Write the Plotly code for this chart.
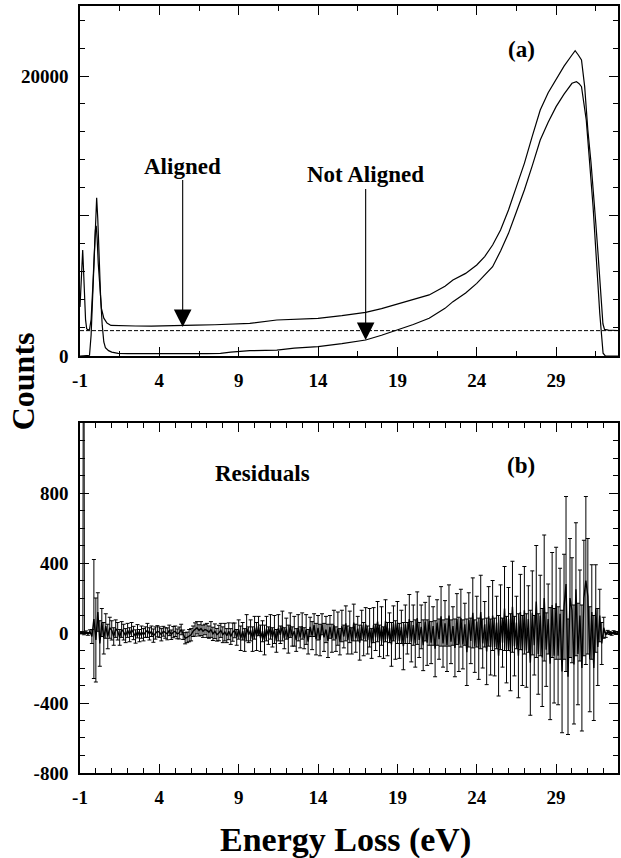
import numpy as np
import plotly.graph_objects as go

# ---------------- data ----------------
aligned_e = [-1.00, -0.93, -0.86, -0.83, -0.79, -0.72, -0.65, -0.58, -0.50, -0.40,
             -0.30, -0.20, -0.10, -0.03, 0.02, 0.08, 0.15, 0.25, 0.35, 0.50,
             0.70, 0.95, 1.5, 2.5, 3.5, 4.5, 5.5, 6.2, 6.3, 7.5,
             8.7, 9.7, 11.4, 12.5, 14.0, 15.5, 17.0, 18.0, 19.0, 20.0,
             21.0, 22.0, 22.5, 23.3, 24.0, 24.5, 25.0, 25.5, 26.0, 26.5,
             27.0, 27.5, 28.0, 28.5, 29.0, 29.5, 30.0, 30.2, 30.4, 30.6,
             30.8, 31.0, 31.2, 31.33, 31.5, 31.64, 31.75, 31.85, 31.95, 32.05,
             32.3, 32.9]
aligned_counts = [3500, 5500, 7300, 7570, 6500, 4200, 2600, 1950, 1850, 1900,
                  2600, 4800, 7500, 9000, 9300, 8400, 6600, 4600, 3400, 2700,
                  2350, 2180, 2150, 2140, 2130, 2140, 2150, 2160, 2200, 2230,
                  2290, 2330, 2570, 2620, 2690, 2880, 3120, 3380, 3710, 4000,
                  4360, 4980, 5430, 5900, 6500, 7100, 7930, 9000, 10430, 12100,
                  13760, 15700, 17570, 18800, 19710, 20700, 21500, 21810, 21500, 21140,
                  19240, 16140, 13800, 12100, 9500, 7350, 5400, 3760, 2300, 1900,
                  1850, 1820]

notaligned_e = [-1.00, -0.50, -0.40, -0.30, -0.20, -0.10, 0.00, 0.05, 0.12, 0.20,
                0.30, 0.40, 0.50, 0.60, 0.80, 1.00, 1.40, 2.0, 3.0, 4.0,
                5.0, 6.0, 7.0, 7.85, 8.5, 9.7, 11.4, 12.5, 14.0, 15.5,
                17.0, 18.0, 19.0, 20.0, 21.0, 22.0, 22.5, 23.3, 24.0, 24.5,
                25.0, 25.5, 26.0, 26.5, 27.0, 27.5, 28.0, 28.5, 29.0, 29.5,
                30.0, 30.28, 30.45, 30.6, 30.9, 31.1, 31.33, 31.54, 31.75, 31.96,
                32.1, 32.9]
notaligned_counts = [0, 0, 50, 1500, 4500, 8200, 10800, 11300, 9800, 7000,
                     4200, 2200, 1000, 600, 380, 280, 190, 170, 160, 170,
                     170, 175, 170, 180, 280, 380, 420, 560, 670, 880,
                     1140, 1480, 1860, 2250, 2690, 3400, 3880, 4500, 5190, 5750,
                     6380, 7500, 8760, 10300, 11860, 13600, 15430, 16700, 17810, 18700,
                     19480, 19600, 19450, 19240, 16860, 14000, 10660, 6860, 3050, 200,
                     0, 0]

background_level = 1810
e_range = [-1.0, 32.9]

# residuals on a uniform channel grid
res_e0 = -1.0
res_step = 0.125
residuals = [
    0, 3, -4, 6, -5, 8, -20, 80,
    -40, 120, -60, 60, -30, 40, -20, 30,
    15, -20, 25, 10, -25, 20, 5, -15,
    15, -10, 20, 0, -20, 10, -15, 5,
    -10, 5, 15, -5, 10, -15, 0, 10,
    5, -10, 10, 0, -5, 15, -10, 5,
    10, -5, 0, 20, -10, -30, -25, -15,
    -10, 10, 20, 30, 15, 25, 10, 20,
    15, 5, 20, -5, 10, -10, 0, 15,
    -10, 5, -15, 10, -20, 5, 15, -25,
    20, -30, 10, -40, 30, -10, 15, -35,
    30, -20, 40, -30, 10, -40, 25, -15,
    35, -25, 20, -45, 30, -10, 40, -30,
    25, -35, 45, -20, 10, -40, 30, -25,
    40, -30, 20, -50, 35, -15, 45, -35,
    30, -40, 50, -25, 20, -45, 35, -30,
    45, -35, 25, -50, 40, -20, 55, -40,
    35, -45, 60, -30, 25, -55, 45, -35,
    50, -40, 30, -60, 45, -25, 65, -45,
    40, -55, 70, -35, 30, -65, 55, -40,
    60, -45, 35, -75, 50, -30, 80, -50,
    45, -60, 85, -40, 35, -70, 65, -55,
    70, -55, 40, -90, 60, -35, 95, -60,
    55, -70, 100, -50, 40, -85, 80, -65,
    85, -65, 50, -110, 75, -45, 115, -75,
    65, -90, 120, -60, 50, -105, 95, -80,
    100, -80, 60, -130, 90, -55, 140, -95,
    80, -110, 150, -75, 60, -130, 120, -100,
    130, -100, 80, -170, 115, -70, 180, -120,
    100, -140, 200, -95, 80, -175, 160, -130,
    170, -130, 110, -220, 150, 280, -250, 200,
    130, -180, 250, -120, 100, -200, 200, 300,
    210, -150, 120, -200, 140, -80, 100, -60,
    30, -10, 5, 0, -5, 5, 0, 0,
]
residual_err = [
    5, 5, 6, 6, 8, 10, 40, 340,
    240, 110, 130, 80, 90, 70, 70, 60,
    55, 50, 50, 50, 45, 45, 45, 40,
    40, 40, 40, 38, 38, 38, 35, 35,
    35, 30, 40, 35, 30, 38, 35, 32,
    30, 35, 28, 30, 34, 30, 27, 32,
    30, 28, 34, 30, 27, 32, 30, 35,
    35, 30, 38, 35, 32, 40, 35, 30,
    40, 35, 45, 38, 42, 36, 44, 40,
    45, 50, 40, 48, 45, 52, 42, 45,
    55, 70, 50, 65, 75, 45, 60, 70,
    65, 80, 55, 75, 60, 85, 70, 50,
    70, 55, 80, 65, 75, 50, 85, 60,
    60, 80, 70, 55, 85, 65, 75, 60,
    75, 60, 85, 70, 55, 80, 65, 90,
    70, 90, 60, 80, 75, 95, 65, 80,
    85, 70, 95, 75, 90, 65, 100, 80,
    90, 75, 105, 80, 70, 100, 85, 95,
    95, 80, 110, 85, 100, 75, 115, 90,
    110, 90, 120, 95, 85, 125, 100, 110,
    120, 100, 95, 135, 110, 90, 140, 115,
    115, 135, 150, 100, 125, 145, 110, 130,
    140, 120, 110, 160, 130, 115, 170, 135,
    130, 150, 175, 125, 110, 165, 145, 155,
    165, 140, 120, 190, 155, 130, 200, 150,
    145, 175, 210, 140, 130, 190, 170, 160,
    200, 165, 150, 230, 185, 140, 240, 190,
    180, 220, 260, 170, 150, 240, 215, 200,
    250, 210, 190, 300, 240, 170, 320, 230,
    230, 280, 360, 210, 200, 320, 300, 270,
    320, 280, 260, 350, 300, 500, 330, 340,
    300, 340, 380, 290, 260, 360, 330, 480,
    330, 300, 270, 300, 250, 220, 150, 120,
    60, 15, 10, 8, 8, 8, 8, 8,
]
spike_e = [-0.82, -0.77, -0.72]
spike_res = [0, 3000, 0]

x_tickvals = [-1, 4, 9, 14, 19, 24, 29]
x_ticktext = ["-1", "4", "9", "14", "19", "24", "29"]
top_y_tickvals = [0, 10000, 20000]
top_y_ticktext = ["0", "", "20000"]
bot_y_tickvals = [-800, -400, 0, 400, 800]
bot_y_ticktext = ["-800", "-400", "0", "400", "800"]

# ---------------- figure ----------------
FONT = "Liberation Serif"
res_e = res_e0 + res_step * np.arange(len(residuals))

fig = go.Figure()
line_style = dict(color="black", width=1.2)

fig.add_trace(go.Scatter(x=e_range, y=[background_level, background_level], mode="lines",
                         line=dict(color="black", width=1, dash="4px,2px"),
                         xaxis="x", yaxis="y", hoverinfo="skip"))
fig.add_trace(go.Scatter(x=aligned_e, y=aligned_counts, mode="lines", line=line_style,
                         xaxis="x", yaxis="y"))
fig.add_trace(go.Scatter(x=notaligned_e, y=notaligned_counts, mode="lines", line=line_style,
                         xaxis="x", yaxis="y"))

fig.add_trace(go.Scatter(x=res_e, y=residuals, mode="lines",
                         line=dict(color="black", width=1.4),
                         error_y=dict(type="data", array=residual_err, visible=True,
                                      color="black", thickness=1, width=2),
                         xaxis="x2", yaxis="y2"))
fig.add_trace(go.Scatter(x=spike_e, y=spike_res, mode="lines",
                         line=dict(color="black", width=1),
                         xaxis="x2", yaxis="y2"))

tickfont = dict(family=FONT, size=19, color="black", weight="bold")
common_x = dict(range=e_range, tickmode="array", tickvals=x_tickvals, ticktext=x_ticktext,
                ticks="inside", ticklen=9, tickwidth=1.3, tickcolor="black",
                showline=True, linecolor="black", linewidth=1.5, mirror="ticks",
                showgrid=False, zeroline=False, tickfont=tickfont, ticklabelstandoff=6)
common_y = dict(ticks="inside", ticklen=9, tickwidth=1.3, tickcolor="black",
                showline=True, linecolor="black", linewidth=1.5, mirror="ticks",
                showgrid=False, zeroline=False, tickfont=tickfont, ticklabelstandoff=6,
                tickmode="array")

top_dom = [0.5437, 1.0]
bot_dom = [0.0, 0.4563]

fig.update_layout(
    width=621, height=858,
    margin=dict(l=80, r=1, t=6, b=85),
    paper_bgcolor="white", plot_bgcolor="white",
    showlegend=False,
    font=dict(family=FONT, color="black"),
    xaxis=dict(domain=[0, 1], anchor="y",
               minor=dict(tickmode="linear", tick0=-1, dtick=2.5, ticks="inside",
                          ticklen=5, tickwidth=1.2, tickcolor="black"),
               **common_x),
    yaxis=dict(domain=top_dom, anchor="x", range=[0, 25000],
               tickvals=top_y_tickvals, ticktext=top_y_ticktext,
               minor=dict(tickmode="linear", tick0=0, dtick=2000, ticks="inside",
                          ticklen=5, tickwidth=1.2, tickcolor="black"),
               **common_y),
    xaxis2=dict(domain=[0, 1], anchor="y2",
                minor=dict(tickmode="linear", tick0=-1, dtick=1, ticks="inside",
                           ticklen=5, tickwidth=1.2, tickcolor="black"),
                **common_x),
    yaxis2=dict(domain=bot_dom, anchor="x2", range=[-800, 1200],
                tickvals=bot_y_tickvals, ticktext=bot_y_ticktext,
                minor=dict(tickmode="linear", tick0=0, dtick=100, ticks="inside",
                           ticklen=5, tickwidth=1.2, tickcolor="black"),
                **common_y),
)

ann_font = dict(family=FONT, size=23, color="black", weight="bold")
fig.add_annotation(x=5.47, y=2070, ax=5.47, ay=13570, xref="x", yref="y", axref="x", ayref="y",
                   text="Aligned", showarrow=True, arrowhead=2, arrowsize=3.2, arrowwidth=1.1,
                   arrowcolor="black", font=ann_font)
fig.add_annotation(x=17.0, y=1140, ax=17.0, ay=12930, xref="x", yref="y", axref="x", ayref="y",
                   text="Not Aligned", showarrow=True, arrowhead=2, arrowsize=3.2, arrowwidth=1.1,
                   arrowcolor="black", font=ann_font)
fig.add_annotation(x=26.8, y=21860, xref="x", yref="y", text="(a)", showarrow=False,
                   font=ann_font)
fig.add_annotation(x=10.5, y=910, xref="x2", yref="y2", text="Residuals", showarrow=False,
                   font=ann_font)
fig.add_annotation(x=26.8, y=956, xref="x2", yref="y2", text="(b)", showarrow=False,
                   font=ann_font)

title_font = dict(family=FONT, size=34, color="black", weight="bold")
fig.add_annotation(x=0.4935, y=-0.0874, xref="paper", yref="paper", text="Energy Loss (eV)",
                   showarrow=False, font=title_font, xanchor="center", yanchor="middle")
fig.add_annotation(x=-0.1055, y=0.511, xref="paper", yref="paper", text="Counts",
                   showarrow=False, font=dict(family=FONT, size=32, color="black", weight="bold"),
                   textangle=-90, xanchor="center", yanchor="middle", borderpad=0)

# remove the default page margin so the 621x858 figure fills the window exactly
fig.write_html("out.html",
               config={"displayModeBar": False},
               post_script="document.body.style.margin='0';document.body.style.overflow='hidden';")
